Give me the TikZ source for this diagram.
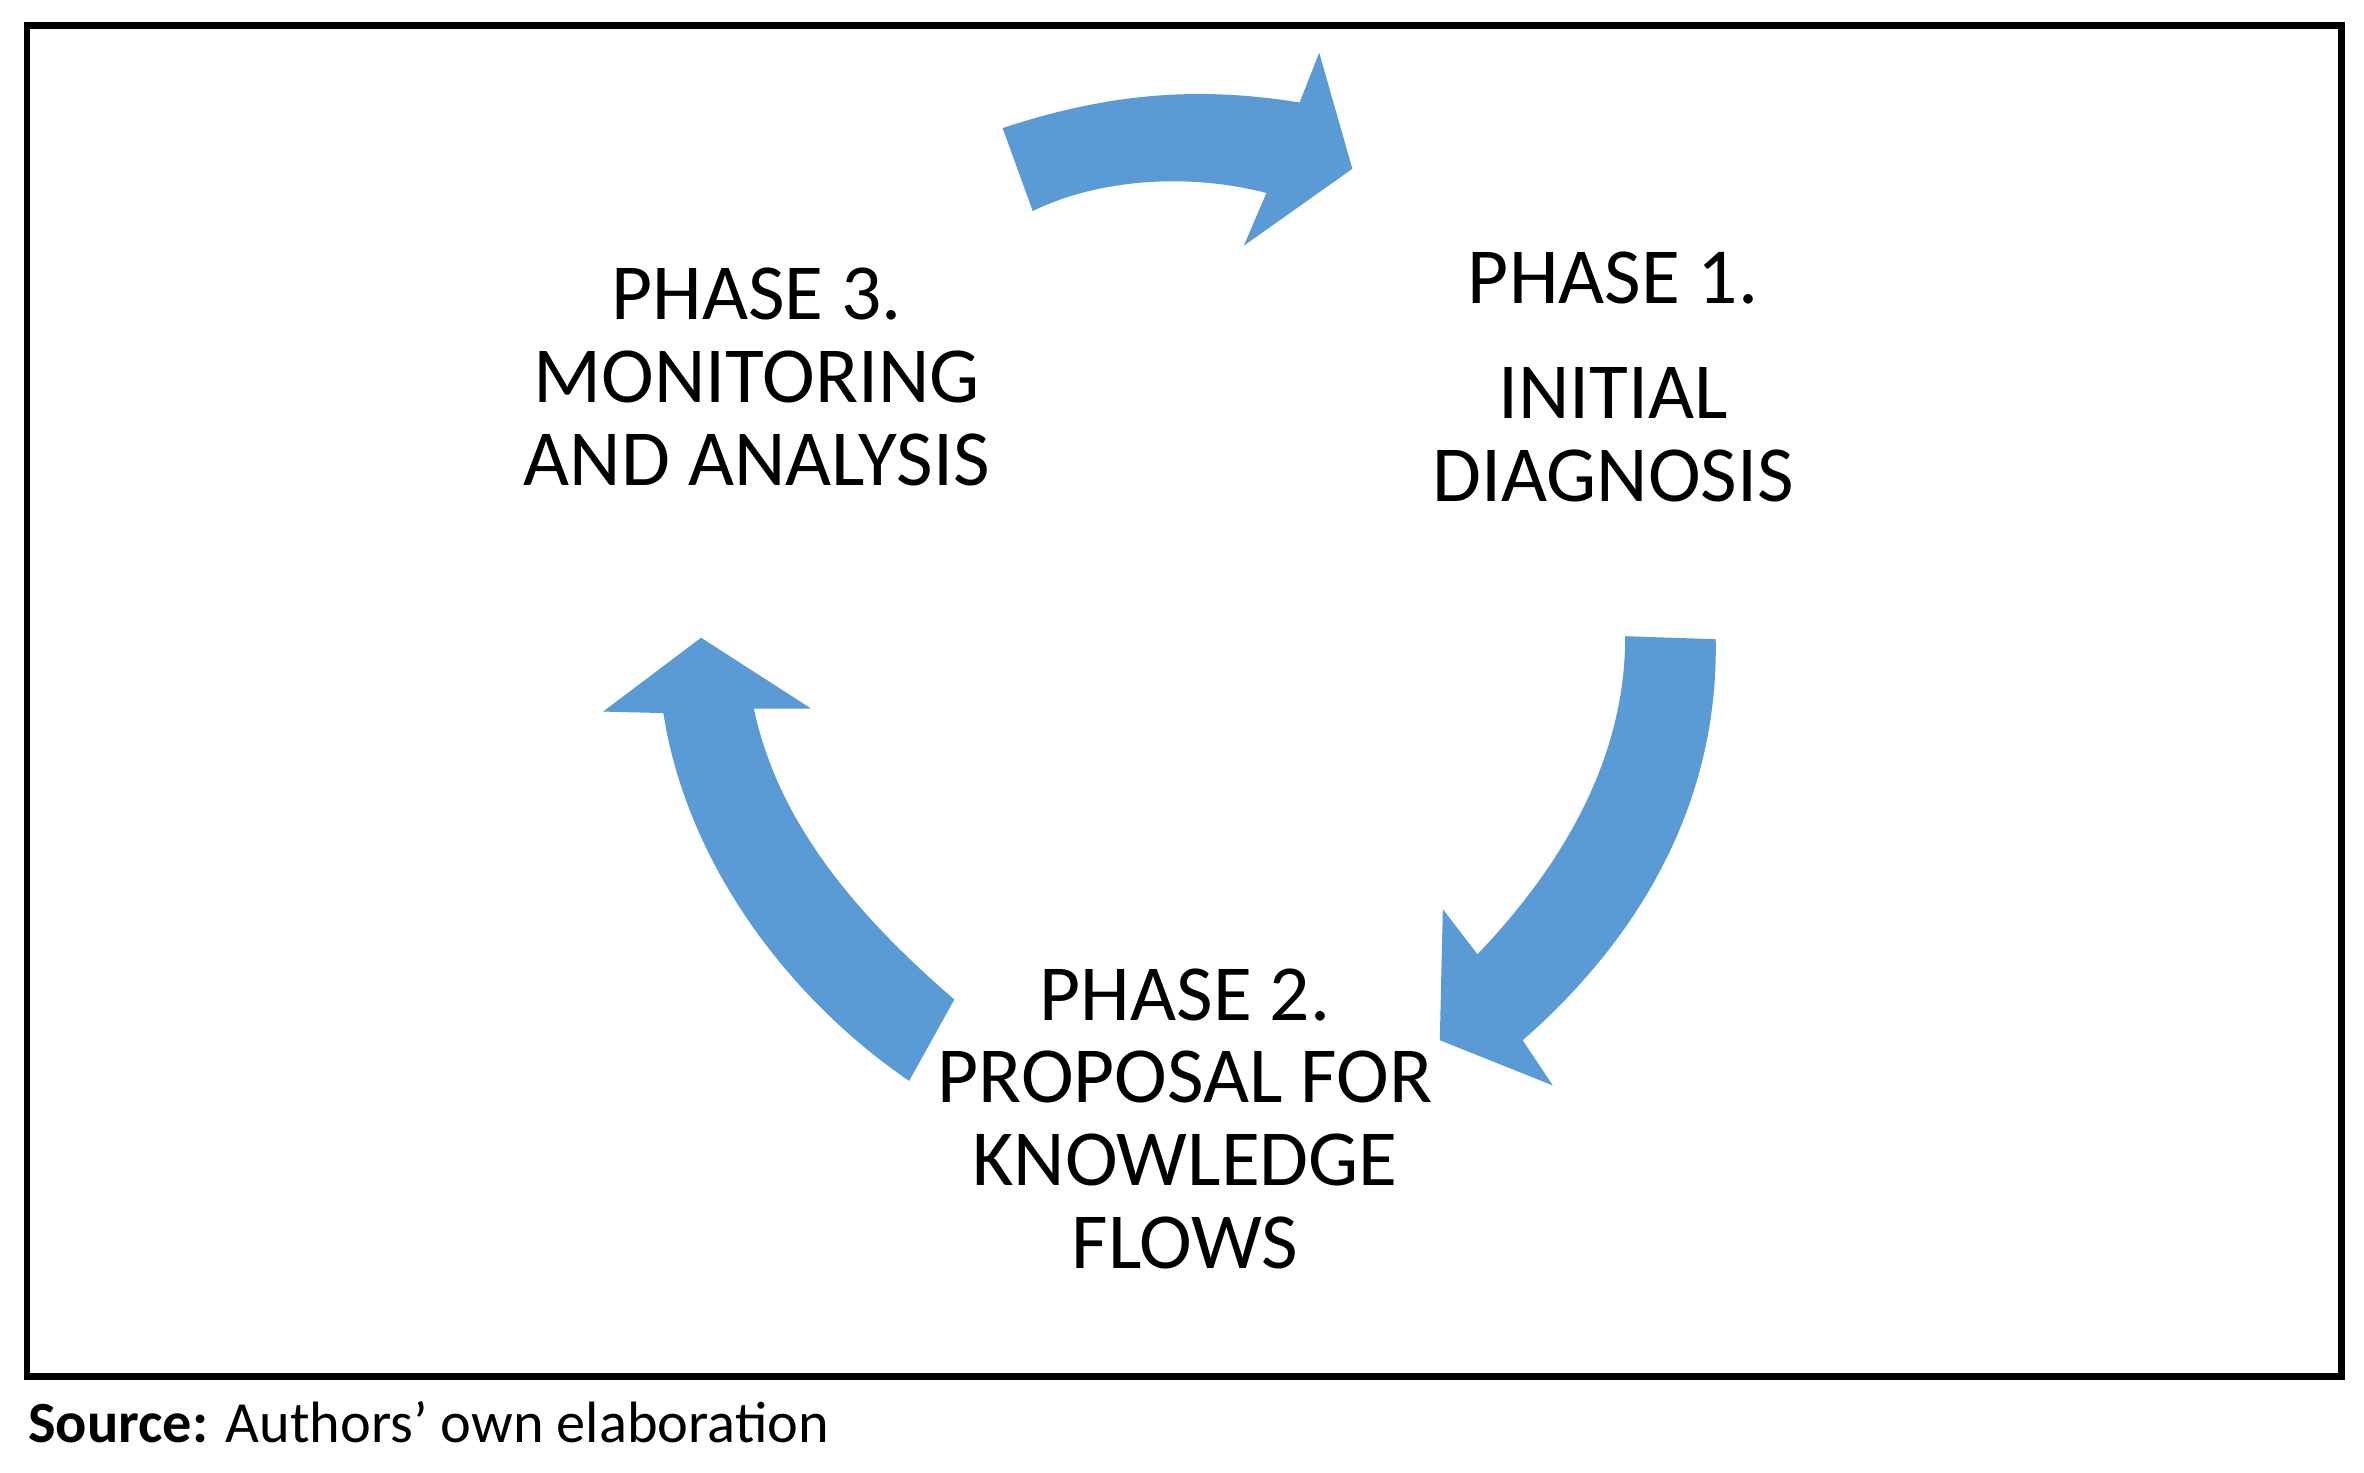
\documentclass[tikz,border=0pt]{standalone}
\usepackage{fontspec}
\setmainfont{Carlito}
\definecolor{arrowblue}{HTML}{5B9BD5}
\begin{document}
\begin{tikzpicture}[x=0.01cm,y=-0.01cm,
  phase/.style={align=center,font=\fontsize{15pt}{15.6pt}\selectfont,inner sep=0pt},
  bigarrow/.style={fill=arrowblue,draw=none}]
\useasboundingbox (0,0) rectangle (1568,977);
\draw[line width=1.2pt] (18,17) rectangle (1553,913);
% top arrow
\path[bigarrow] (665,85) .. controls (740,60) and (800,58) .. (862,68) -- (875,35) -- (897,112) -- (825,163) -- (840,128)
  .. controls (790,115) and (730,118) .. (685,140) -- cycle;
% right arrow
\path[bigarrow] (1138,424) .. controls (1140,530) and (1090,620) .. (1010,690) -- (1030,720) -- (955,690) -- (957,603) -- (980,633)
  .. controls (1040,570) and (1078,500) .. (1078,422) -- cycle;
% left arrow
\path[bigarrow] (633,663) .. controls (560,600) and (515,540) .. (500,470) -- (538,470) -- (465,423) -- (400,472) -- (440,473)
  .. controls (455,570) and (520,660) .. (603,717) -- cycle;
\node[phase] (p3) at (502,250) {PHASE 3.\\MONITORING\\AND ANALYSIS};
\node[phase] (p1) at (1070,250) {PHASE 1.\\[6pt]INITIAL\\DIAGNOSIS};
\node[phase] (p2) at (786,742) {PHASE 2.\\PROPOSAL FOR\\KNOWLEDGE\\FLOWS};
\node[anchor=west,inner sep=0pt,font=\fontsize{11pt}{12pt}\selectfont] (src) at (18,943) {\textbf{Source:} Authors’ own elaboration};
\end{tikzpicture}
\end{document}
